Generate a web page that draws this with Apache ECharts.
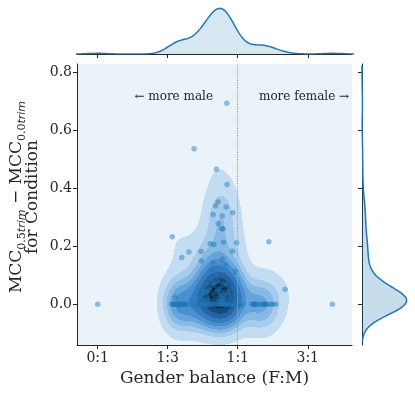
<!DOCTYPE html>
<html>
<head>
<meta charset="utf-8">
<script src="https://cdn.jsdelivr.net/npm/echarts@6/dist/echarts.min.js"></script>
<style>
html, body { margin: 0; padding: 0; background: #fff; }
#main { width: 415px; height: 393px; }
</style>
</head>
<body>
<div id="main"></div>
<script>
// tick positions / labels
var xTickValues = [0, 0.25, 0.5, 0.75];
var xTickLabels = ['0:1', '1:3', '1:1', '3:1'];
var yTickValues = [0, 0.2, 0.4, 0.6, 0.8];
var yTickLabels = ['0.0', '0.2', '0.4', '0.6', '0.8'];

// scattered points above the main cluster: [female share, MCC difference]
var pointsUpper = [
    [0.461, 0.694], [0.344, 0.537], [0.424, 0.466], [0.462, 0.414], [0.43, 0.354],
    [0.421, 0.34], [0.459, 0.336], [0.482, 0.316], [0.412, 0.31], [0.445, 0.305],
    [0.43, 0.278], [0.443, 0.261], [0.447, 0.261], [0.266, 0.233], [0.402, 0.209],
    [0.415, 0.206], [0.449, 0.214], [0.496, 0.212], [0.611, 0.216], [0.326, 0.18],
    [0.369, 0.182], [0.481, 0.183], [0.3, 0.161], [0.37, 0.15], [0.446, 0.156],
    [0.411, 0.143], [0.457, 0.136], [0.407, 0.122], [0.493, 0.113], [0.424, 0.109],
    [0.669, 0.052], [0.277, 0.024]
];
// dense cluster just above zero
var pointsCore = [
    [0.36, 0.02], [0.365, 0.03], [0.372, 0.055], [0.375, 0.035], [0.378, 0.015],
    [0.385, 0.04], [0.385, 0.01], [0.39, 0.07], [0.39, 0.045], [0.395, 0.02],
    [0.40, 0.05], [0.405, 0.09], [0.408, 0.01], [0.412, 0.035], [0.416, 0.065],
    [0.42, 0.02], [0.424, 0.045], [0.427, 0.08], [0.43, 0.01], [0.433, 0.03],
    [0.436, 0.055], [0.438, 0.015], [0.441, 0.04], [0.443, 0.02], [0.445, 0.005],
    [0.447, 0.065], [0.449, 0.03], [0.452, 0.012], [0.455, 0.045], [0.458, 0.025],
    [0.461, 0.07], [0.464, 0.01], [0.467, 0.04], [0.47, 0.02], [0.474, 0.055],
    [0.478, 0.03], [0.482, 0.085], [0.486, 0.015], [0.49, 0.045], [0.495, 0.06],
    [0.5, 0.025], [0.44, 0.03], [0.435, 0.01], [0.45, 0.018], [0.455, 0.005],
    [0.43, 0.05], [0.46, 0.035], [0.42, 0.1], [0.41, 0.075]
];
// points sitting exactly on zero (x only)
var zeroRowX = [
    0.0,
    0.265, 0.268, 0.27, 0.275, 0.28, 0.285, 0.29, 0.291, 0.295, 0.3, 0.3, 0.305,
    0.31, 0.31, 0.315, 0.322,
    0.35, 0.358, 0.36, 0.365, 0.37, 0.375, 0.38, 0.383, 0.39, 0.395, 0.397, 0.405,
    0.413, 0.42, 0.425, 0.43, 0.437, 0.44, 0.445, 0.448, 0.452, 0.455, 0.461, 0.465,
    0.473, 0.48, 0.485, 0.496, 0.505, 0.514,
    0.55, 0.555, 0.56, 0.561, 0.565, 0.57, 0.58, 0.59, 0.591, 0.597, 0.6, 0.605,
    0.617, 0.625, 0.636,
    0.838
];

var points = pointsUpper.concat(pointsCore).concat(zeroRowX.map(function (x) { return [x, 0]; }));

var X_MIN = -0.074, X_MAX = 0.908, Y_MIN = -0.141, Y_MAX = 0.83;
var THRESH = 0.08;
var BW_ADJUST_X = 0.85, BW_ADJUST_Y = 1.2;
var bandColors = ['#c4dcf1', '#a6cbeb', '#86b9e4', '#66a5dc', '#4a90d0', '#357bbf', '#2563a2', '#174a7c', '#07192e'];
var serif = 'DejaVu Serif';
var dark = '#262626';

// ---- 2d gaussian kde (scott) ----
var n = points.length;
var xs = points.map(function (p) { return p[0]; });
var ys = points.map(function (p) { return p[1]; });
function mean(a) { var s = 0; for (var i = 0; i < a.length; i++) s += a[i]; return s / a.length; }
var mx = mean(xs), my = mean(ys);
var sxx = 0, syy = 0, sxy = 0;
for (var i = 0; i < n; i++) {
    var ddx = xs[i] - mx, ddy = ys[i] - my;
    sxx += ddx * ddx; syy += ddy * ddy; sxy += ddx * ddy;
}
sxx /= (n - 1); syy /= (n - 1); sxy /= (n - 1);
var f2 = Math.pow(n, -2 / 6);
var cxx = sxx * f2 * BW_ADJUST_X * BW_ADJUST_X;
var cyy = syy * f2 * BW_ADJUST_Y * BW_ADJUST_Y;
var cxy = sxy * f2 * BW_ADJUST_X * BW_ADJUST_Y;
var det = cxx * cyy - cxy * cxy;
var ixx = cyy / det, iyy = cxx / det, ixy = -cxy / det;
function dens2(x, y) {
    var s = 0;
    for (var k = 0; k < n; k++) {
        var dx = x - xs[k], dy = y - ys[k];
        s += Math.exp(-0.5 * (ixx * dx * dx + 2 * ixy * dx * dy + iyy * dy * dy));
    }
    return s;
}
var NX = 275, NY = 281;
var gdx = (X_MAX - X_MIN) / NX, gdy = (Y_MAX - Y_MIN) / NY;
var grid = [], allVals = [];
for (var j = 0; j < NY; j++) {
    var row = [];
    for (var i = 0; i < NX; i++) {
        var v = dens2(X_MIN + (i + 0.5) * gdx, Y_MIN + (j + 0.5) * gdy);
        row.push(v); allVals.push(v);
    }
    grid.push(row);
}
// iso-proportion levels like seaborn (levels=10)
var sorted = allVals.slice().sort(function (a, b) { return b - a; });
var total = 0; sorted.forEach(function (v) { total += v; });
var cum = [], acc = 0;
for (var i = 0; i < sorted.length; i++) { acc += sorted[i]; cum.push(acc / total); }
var levels = [];
for (var k = 0; k < 10; k++) {
    var p = THRESH + k * ((1 - THRESH) / 9);
    var target = 1 - p, idx = 0;
    while (idx < cum.length - 1 && cum[idx] < target) idx++;
    levels.push(sorted[idx]);
}
function bandOf(v) {
    if (v < levels[0]) return -1;
    var b = 0;
    while (b < 8 && v >= levels[b + 1]) b++;
    return b;
}
var contourRuns = [];
for (var j = 0; j < NY; j++) {
    var i = 0;
    while (i < NX) {
        var b = bandOf(grid[j][i]);
        var i0 = i;
        while (i + 1 < NX && bandOf(grid[j][i + 1]) === b) i++;
        if (b >= 0) {
            contourRuns.push([X_MIN + i0 * gdx, X_MIN + (i + 1) * gdx, Y_MIN + j * gdy, Y_MIN + (j + 1) * gdy, b]);
        }
        i++;
    }
}

// ---- marginal 1d kdes ----
function std(a) { var m = mean(a), s = 0; a.forEach(function (v) { s += (v - m) * (v - m); }); return Math.sqrt(s / (a.length - 1)); }
function kde1(vals) {
    var bw = std(vals) * Math.pow(vals.length, -0.2);
    var lo = Math.min.apply(null, vals) - 3 * bw, hi = Math.max.apply(null, vals) + 3 * bw;
    var out = [];
    for (var g = 0; g <= 200; g++) {
        var t = lo + (hi - lo) * g / 200, s = 0;
        vals.forEach(function (v) { var z = (t - v) / bw; s += Math.exp(-0.5 * z * z); });
        out.push([t, s / (vals.length * bw * Math.sqrt(2 * Math.PI))]);
    }
    return out;
}
var xDens = kde1(xs);
var yDens = kde1(ys).filter(function (d) { return d[0] >= Y_MIN && d[0] <= Y_MAX; });
var xPeak = Math.max.apply(null, xDens.map(function (d) { return d[1]; }));
var yPeak = Math.max.apply(null, yDens.map(function (d) { return d[1]; }));

function valueAxis(extra) {
    var base = {
        type: 'value',
        axisLine: { show: true, onZero: false, lineStyle: { color: dark, width: 1 } },
        axisTick: { show: true, length: 4, lineStyle: { color: dark, width: 1 } },
        axisLabel: { show: false },
        splitLine: { show: false }
    };
    return Object.assign(base, extra);
}

var myChart = echarts.init(document.getElementById('main'));
var option = {
    animation: false,
    backgroundColor: '#ffffff',
    grid: [
        { left: 77, top: 64, width: 275, height: 281, show: true, backgroundColor: '#eaf2fa', borderWidth: 0 },
        { left: 77, top: 6, width: 275, height: 48 },
        { left: 362, top: 64, width: 47, height: 281 }
    ],
    xAxis: [
        valueAxis({
            gridIndex: 0, min: X_MIN, max: X_MAX,
            axisTick: { show: true, length: 4, customValues: xTickValues, lineStyle: { color: dark } },
            axisLabel: {
                show: true, customValues: xTickValues, margin: 6, color: dark,
                fontFamily: serif, fontSize: 14,
                formatter: function (v) { return xTickLabels[xTickValues.indexOf(v)]; }
            },
            name: 'Gender balance (F:M)', nameLocation: 'middle', nameGap: 24,
            nameTextStyle: { fontFamily: serif, fontSize: 17, color: dark }
        }),
        valueAxis({
            gridIndex: 1, min: X_MIN, max: X_MAX,
            axisTick: { show: true, length: 4, customValues: xTickValues, lineStyle: { color: dark } }
        }),
        valueAxis({ gridIndex: 2, min: 0, max: yPeak * 1.05, axisLine: { show: false }, axisTick: { show: false } })
    ],
    yAxis: [
        valueAxis({
            gridIndex: 0, min: Y_MIN, max: Y_MAX,
            axisTick: { show: true, length: 4, customValues: yTickValues, lineStyle: { color: dark } },
            axisLabel: {
                show: true, customValues: yTickValues, margin: 5, color: dark,
                fontFamily: serif, fontSize: 14,
                formatter: function (v) { return yTickLabels[yTickValues.indexOf(v)]; }
            }
        }),
        valueAxis({ gridIndex: 1, min: 0, max: xPeak * 1.05, axisLine: { show: false }, axisTick: { show: false } }),
        valueAxis({
            gridIndex: 2, min: Y_MIN, max: Y_MAX,
            axisTick: { show: true, length: 4, customValues: yTickValues, lineStyle: { color: dark } }
        })
    ],
    series: [
        {
            type: 'custom',
            name: 'density',
            xAxisIndex: 0, yAxisIndex: 0,
            silent: true,
            z: 1,
            encode: { x: [0, 1], y: [2, 3] },
            data: contourRuns,
            renderItem: function (params, api) {
                var p0 = api.coord([api.value(0), api.value(2)]);
                var p1 = api.coord([api.value(1), api.value(3)]);
                var x0 = Math.round(p0[0]), x1 = Math.round(p1[0]);
                var yt = Math.round(p1[1]), yb = Math.round(p0[1]);
                return {
                    type: 'rect',
                    shape: { x: x0, y: yt, width: x1 - x0, height: yb - yt },
                    style: { fill: bandColors[api.value(4)] }
                };
            }
        },
        {
            type: 'scatter',
            xAxisIndex: 0, yAxisIndex: 0,
            z: 3,
            symbolSize: 5.5,
            itemStyle: { color: '#1f77b4', opacity: 0.45 },
            data: points,
            markLine: {
                silent: true, symbol: 'none', label: { show: false },
                lineStyle: { type: 'dotted', color: '#a0a0a0', width: 1.2 },
                data: [{ xAxis: 0.5 }]
            }
        },
        {
            type: 'line',
            xAxisIndex: 1, yAxisIndex: 1,
            showSymbol: false, silent: true,
            data: xDens,
            lineStyle: { color: '#1f77b4', width: 1.5 },
            areaStyle: { color: 'rgba(31,119,180,0.25)' }
        },
        {
            type: 'custom',
            xAxisIndex: 2, yAxisIndex: 2,
            silent: true,
            data: [[0, 0]],
            renderItem: function (params, api) {
                var pts = [api.coord([0, yDens[0][0]])];
                yDens.forEach(function (d) { pts.push(api.coord([d[1], d[0]])); });
                pts.push(api.coord([0, yDens[yDens.length - 1][0]]));
                return { type: 'polygon', shape: { points: pts }, style: { fill: 'rgba(31,119,180,0.25)' } };
            }
        },
        {
            type: 'line',
            xAxisIndex: 2, yAxisIndex: 2,
            showSymbol: false, silent: true,
            data: yDens.map(function (d) { return [d[1], d[0]]; }),
            lineStyle: { color: '#1f77b4', width: 1.5 }
        }
    ],
    graphic: [
        {
            type: 'text', x: 213, y: 97,
            style: { text: '\u2190 more male', align: 'right', verticalAlign: 'middle', fontFamily: serif, fontSize: 12, fill: dark },
            z: 10
        },
        {
            type: 'text', x: 259, y: 97,
            style: { text: 'more female \u2192', align: 'left', verticalAlign: 'middle', fontFamily: serif, fontSize: 12, fill: dark },
            z: 10
        },
        {
            type: 'text', x: 17, y: 197, rotation: Math.PI / 2,
            style: {
                text: '{a|MCC}{s|0.5}{i|trim}{a| \u2212 MCC}{s|0.0}{i|trim}',
                align: 'center', verticalAlign: 'middle',
                rich: {
                    a: { fontFamily: serif, fontSize: 17, lineHeight: 22, fill: dark },
                    s: { fontFamily: serif, fontSize: 11, lineHeight: 12, verticalAlign: 'bottom', fill: dark },
                    i: { fontFamily: 'DejaVu Sans', fontStyle: 'italic', fontSize: 11, lineHeight: 12, verticalAlign: 'bottom', fill: dark }
                }
            }
        },
        {
            type: 'text', x: 33, y: 197, rotation: Math.PI / 2,
            style: { text: 'for Condition', align: 'center', verticalAlign: 'middle', fontFamily: serif, fontSize: 17, fill: dark }
        }
    ]
};
myChart.setOption(option);
</script>
</body>
</html>
